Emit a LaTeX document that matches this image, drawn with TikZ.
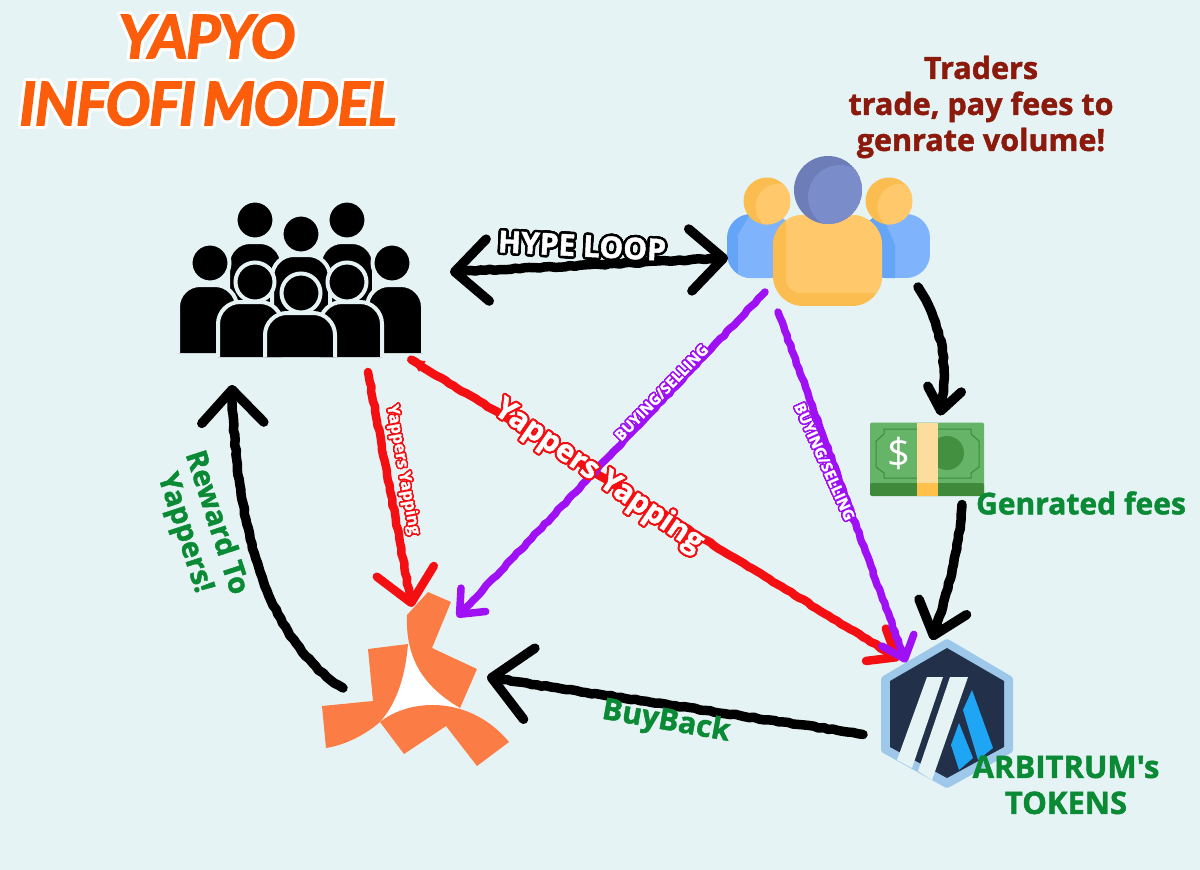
\documentclass[tikz,border=0pt]{standalone}
\usepackage{fontspec}
\usepackage[copies]{contour}
\usetikzlibrary{arrows.meta,decorations.pathmorphing}
\setmainfont{Open Sans}
\newfontfamily\titlefont{Lato}[BoldItalicFeatures={FakeBold=2.5,LetterSpace=-2.5},WordSpace=.6]
\newfontfamily\labelfont{Open Sans}[BoldFeatures={FakeBold=1.5}]
\contournumber{24}
\definecolor{bgcol}{HTML}{E6F3F5}
\definecolor{yapcol}{HTML}{FB7C45}
\definecolor{titlecol}{HTML}{FB5D0A}
\definecolor{traderred}{HTML}{8B1A0C}
\definecolor{feegreen}{HTML}{0A8A34}
\definecolor{purplecol}{HTML}{9F10F5}
\definecolor{redcol}{HTML}{F40F12}
\definecolor{bluebody}{HTML}{7FB3FB}
\definecolor{bluedark}{HTML}{64A5F8}
\definecolor{goldbody}{HTML}{FFC86A}
\definecolor{golddark}{HTML}{FBBD4F}
\definecolor{headblue}{HTML}{7A8CC9}
\definecolor{headdark}{HTML}{6C7DB8}
\definecolor{notegreen}{HTML}{66B468}
\definecolor{notedark}{HTML}{3E8A3A}
\definecolor{arbdark}{HTML}{22304A}
\definecolor{arbring}{HTML}{9DC8EA}
\definecolor{arbblue}{HTML}{1EA5F4}
\tikzset{
  iconbox/.style={inner sep=0pt,outer sep=0pt,rectangle},
  handline/.style={line cap=round,line join=round,decorate,
    decoration={random steps,segment length=5pt,amplitude=.7pt,pre length=5pt,post length=5pt}},
  bigarrow/.style={handline,draw=black,line width=9.5pt,
    -{Straight Barb[round,length=33pt,width=62pt]}},
  redarrow/.style={handline,draw=redcol,line width=8.5pt,
    -{Straight Barb[round,length=32pt,width=58pt]}},
  purplearrow/.style={handline,draw=purplecol,line width=7.5pt,
    -{Straight Barb[round,length=20pt,width=34pt]}},
  greenlabel/.style={text=feegreen,font=\labelfont\bfseries\fontsize{30}{33}\selectfont,align=center},
}
\newcommand{\personshape}[6]{% x left, x right, top, bottom, head x, head y
  \path[fill=black,draw=bgcol,line width=4pt,rounded corners=22pt]
    (#1,#4) -- (#1,#3) -- (#2,#3) -- (#2,#4);
  \fill[black,draw=bgcol,line width=4pt] (#5,#6) circle (19.5pt);
}
\begin{document}
\begin{tikzpicture}[x=1pt,y=-1pt]
  \fill[bgcol] (0,0) rectangle (1200,870);

  % Title
  \node[iconbox,font=\titlefont\bfseries\itshape\fontsize{59.5}{70}\selectfont,text=titlecol] (titletop) at (207,38)
    {\contourlength{3pt}\contour{white}{YAPYO}};
  \node[iconbox,font=\titlefont\bfseries\itshape\fontsize{59.5}{70}\selectfont,text=titlecol] (titlebot) at (208,105)
    {\contourlength{3pt}\contour{white}{INFOFI MODEL}};

  % Crowd
  \node[iconbox,minimum width=244pt,minimum height=154pt] (crowd) at (300,280) {};
  \personshape{228}{282}{242}{310}{255}{220}
  \personshape{320}{374}{242}{310}{347}{220}
  \personshape{272}{330}{255}{320}{301}{234}
  \personshape{178}{237}{285}{353}{210}{263}
  \personshape{367}{423}{285}{353}{392}{263}
  \personshape{218}{282}{302}{357}{255}{282}
  \personshape{320}{382}{302}{357}{347}{282}
  \personshape{265}{335}{313}{357}{301}{293}

  % Traders
  \node[iconbox,minimum width=204pt,minimum height=150pt] (traders) at (828,231) {};
  \begin{scope}
    \clip[rounded corners=24pt] (727,278) rectangle (793,214);
    \fill[bluedark] (727,278) rectangle (793,214);
    \fill[bluebody] (738,278) -- (738,235) -- (750,214) -- (793,214) -- (793,278) -- cycle;
  \end{scope}
  \begin{scope}
    \clip[rounded corners=24pt] (862,278) rectangle (930,214);
    \fill[bluebody] (862,278) rectangle (930,214);
    \fill[bluedark] (862,278) -- (862,214) -- (885,222) -- (895,245) -- (895,278) -- cycle;
  \end{scope}
  \foreach \x in {767,889} {
    \begin{scope}
      \clip (\x,201) circle (23.5pt);
      \fill[golddark] (\x,201) circle (23.5pt);
      \fill[goldbody] (\x+12,207) circle (23.5pt);
    \end{scope}
  }
  \begin{scope}
    \clip[rounded corners=30pt] (773,306) rectangle (882,215);
    \fill[golddark] (773,306) rectangle (882,215);
    \fill[goldbody,rounded corners=14pt] (786,293) rectangle (890,205);
  \end{scope}
  \begin{scope}
    \clip (828,190) circle (34pt);
    \fill[headdark] (828,190) circle (34pt);
    \fill[headblue] (840,197) circle (32pt);
  \end{scope}

  % Money
  \node[iconbox,minimum width=114pt,minimum height=73pt,fill=notegreen,rounded corners=2pt] (money) at (927,459) {};
  \fill[notedark,rounded corners=2pt] (870,483) rectangle (984,496);
  \fill[notedark!85!notegreen] (947,453) circle (17pt);
  \draw[notedark,line width=1pt] (884,429) -- (971,429) -- (971,434) -- (979,441) -- (979,467) -- (971,473) -- (971,478) -- (884,478) -- (884,473) -- (876,467) -- (876,441) -- (884,434) -- cycle;
  \fill[yellow!30!orange!35!white] (917,423) rectangle (938,483);
  \fill[orange!70!yellow!70!white] (917,483) rectangle (938,496);
  \node[iconbox,text=white,font=\fontsize{40}{42}\selectfont] (dollar) at (899,453) {\$};

  % Yapyo logo
  \node[iconbox,minimum width=188pt,minimum height=174pt] (yapyo) at (416,679) {};
  \fill[white] (408,644) -- (460,708) -- (380,722) -- cycle;
  \fill[yapcol] (428,592) -- (451,602) -- (432,648) -- (477,669) -- (460,708)
    .. controls (430,690) and (405,665) .. (407,615) -- cycle;
  \fill[yapcol] (368,649) -- (408,644) .. controls (405,680) and (395,705) .. (380,722)
    .. controls (365,735) and (345,745) .. (326,748) -- (322,706) -- (373,701) -- cycle;
  \fill[yapcol] (380,722) .. controls (410,698) and (470,695) .. (509,742)
    -- (477,766) -- (446,726) -- (404,754) -- cycle;

  % Arbitrum
  \node[iconbox,minimum width=132pt,minimum height=149pt] (arb) at (947,713.5) {};
  \fill[arbring,draw=arbring,line width=6pt,line join=round] (947,642) -- (1010,679) -- (1010,750) -- (947,785) -- (884,750) -- (884,679) -- cycle;
  \fill[arbdark] (947,648) -- (1004,681) -- (1004,747) -- (947,778) -- (890,747) -- (890,681) -- cycle;
  \fill[bgcol] (927,677) -- (943,677) -- (912,768) -- (897,760) -- cycle;
  \fill[bgcol] (950,677) -- (968,677) -- (932,780) -- (918,771) -- cycle;
  \fill[arbblue] (972,690) -- (993,748) -- (978,760) -- (963,710) -- cycle;
  \fill[arbblue] (959,723) -- (973,758) -- (959,770) -- (951,745) -- cycle;

  % Connectors
  \draw[bigarrow,{Straight Barb[round,length=33pt,width=62pt]}-{Straight Barb[round,length=33pt,width=62pt]}] ([shift={(28,-8)}]crowd.east) -- ([shift={(2,27)}]traders.west);
  \draw[bigarrow,-{Straight Barb[round,length=22pt,width=34pt]}] ([shift={(-12,-19)}]traders.south east) .. controls (945,330) and (948,370) .. ([shift={(13,-7)}]money.north);
  \draw[bigarrow,-{Straight Barb[round,length=30pt,width=50pt]}] ([shift={(35,9)}]money.south) .. controls (958,560) and (945,600) .. ([shift={(-15,1)}]arb.north);
  \draw[bigarrow,-{Straight Barb[round,length=38pt,width=72pt]}] ([shift={(-18,21)}]arb.west) .. controls (740,715) and (600,695) .. ([shift={(-23,-2)}]yapyo.east);
  \draw[bigarrow] ([shift={(21,9)}]yapyo.west) .. controls (265,640) and (235,520) .. ([shift={(-68,28)}]crowd.south);
  \draw[redarrow] ([shift={(68,15)}]crowd.south) -- ([shift={(-4,15)}]yapyo.north);
  \draw[redarrow,{Latex[length=18pt,width=13pt]}-{Straight Barb[round,length=24pt,width=38pt]}] ([shift={(-15,0)}]crowd.south east) -- ([shift={(19,-54)}]arb.west);
  \draw[purplearrow] ([shift={(39,-14)}]traders.south west) -- ([shift={(41,25)}]yapyo.north);
  \draw[purplearrow] ([shift={(52,6)}]traders.south west) -- ([shift={(25,-51)}]arb.west);

  % Labels
  \node[iconbox,rotate=-3,text=white,font=\labelfont\bfseries\fontsize{30}{32}\selectfont] (hype) at (582,247)
    {\contourlength{2.5pt}\contour{black}{HYPE LOOP}};
  \node[iconbox,rotate=46,text=white,font=\labelfont\bfseries\fontsize{15}{17}\selectfont] (buyleft) at (662,393)
    {\contourlength{1.5pt}\contour{purplecol}{BUYING/SELLING}};
  \node[iconbox,rotate=-66,text=white,font=\labelfont\bfseries\fontsize{15}{17}\selectfont] (buyright) at (824,462)
    {\contourlength{1.5pt}\contour{purplecol}{BUYING/SELLING}};
  \node[iconbox,rotate=-80,text=white,font=\labelfont\bfseries\fontsize{16}{18}\selectfont] (yapsmall) at (402,470)
    {\contourlength{1.5pt}\contour{redcol}{Yappers Yapping}};
  \node[iconbox,rotate=-34.5,text=white,font=\labelfont\bfseries\fontsize{30}{32}\selectfont] (yapbig) at (598,477)
    {\contourlength{2pt}\contour{redcol}{Yappers Yapping}};
  \node[iconbox,rotate=-10,greenlabel,font=\labelfont\bfseries\fontsize{30}{32}\selectfont] (buyback) at (666,722) {BuyBack};
  \node[iconbox,rotate=-72,greenlabel,font=\labelfont\bfseries\fontsize{29}{33}\selectfont] (reward) at (200,528) {Reward To\\Yappers!};
  \node[iconbox,greenlabel] (feetext) at (1081,503) {Genrated fees};
  \node[iconbox,greenlabel,font=\labelfont\bfseries\fontsize{31}{36}\selectfont] (arbtext) at (1066,785) {ARBITRUM's\\TOKENS};
  \node[iconbox,text=traderred,align=center,font=\labelfont\bfseries\fontsize{30.5}{36}\selectfont] (tradertext) at (981,107) {Traders\\trade, pay fees to\\genrate volume!};
\end{tikzpicture}
\end{document}
